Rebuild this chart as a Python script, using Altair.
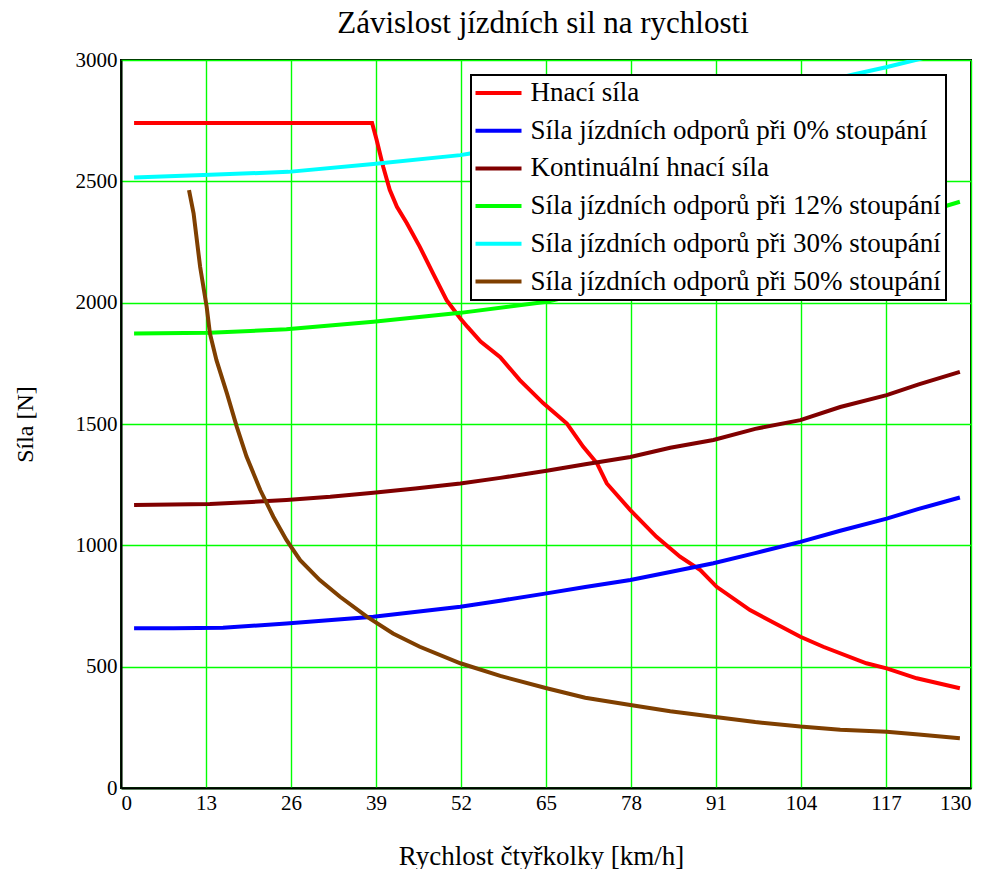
import altair as alt
import pandas as pd

# ---- data ----
chart_title = "Závislost jízdních sil na rychlosti"
series_names = [
    "Hnací síla",
    "Síla jízdních odporů při 0% stoupání",
    "Kontinuální hnací síla",
    "Síla jízdních odporů při 12% stoupání",
    "Síla jízdních odporů při 30% stoupání",
    "Síla jízdních odporů při 50% stoupání",
]
series_colors = ["#FF0000", "#0000FF", "#800000", "#00FF00", "#00FFFF", "#7F3F00"]

hnaci_x = [2, 10, 20, 30, 38.4, 39.1, 40.1, 41.1, 42.2, 43.7, 45.7, 47.7, 49.8, 51.9, 53.0, 55.0,
           58, 61, 64.6, 68.2, 70.7, 72.8, 74.3, 77.9, 81.9, 85.5, 88.6, 91.1, 96.2, 103.9,
           107.4, 114, 117.1, 121.7, 128.3]
hnaci_y = [2740, 2740, 2740, 2740, 2740, 2670, 2560, 2465, 2395, 2328, 2230, 2122, 2010, 1935, 1900, 1840,
           1775, 1681, 1585, 1502, 1406, 1338, 1255, 1145, 1035, 953, 898, 829, 733, 623,
           582, 514, 493, 452, 411]

odp0_x = [2, 8, 15.6, 25.3, 38.6, 51.9, 58, 64.6, 71, 77.9, 84, 90.6, 97, 103.9, 110, 117.1, 122, 128.3]
odp0_y = [658, 658, 660, 678, 706, 747, 772, 800, 828, 857, 890, 926, 968, 1014, 1060, 1110, 1150, 1197]

kont_x = [2, 13.6, 20, 25.3, 32, 38.6, 45, 51.9, 58, 65.1, 71, 77.9, 84, 90.6, 97, 103.9, 110, 117.1, 122, 128.3]
kont_y = [1166, 1170, 1179, 1187, 1200, 1217, 1234, 1255, 1278, 1307, 1334, 1364, 1402, 1434, 1480, 1516,
          1570, 1619, 1663, 1715]

odp12_x = [2, 13.6, 25.3, 38.6, 51.9, 65.1, 69, 77.9, 90.6, 103.9, 117.1, 128.3]
odp12_y = [1873, 1876, 1890, 1921, 1958, 2004, 2028, 2072, 2141, 2229, 2325, 2416]

odp30_x = [2, 12.6, 25.6, 38.6, 51.9, 53.4, 64.6, 77.9, 90.6, 104, 108, 112, 117, 121.5, 128.3]
odp30_y = [2516, 2526, 2539, 2571, 2608, 2615, 2658, 2715, 2784, 2880, 2915, 2940, 2970, 3000, 3050]

odp50_x = [10.4, 11.1, 12.1, 13.1, 13.6, 14.6, 16.2, 17.7, 19.2, 21.3, 23.3, 25.3, 27.4, 30.4, 33.5,
           37.6, 41.6, 45.7, 51.9, 58, 65.1, 71, 77.9, 84, 90.6, 97, 103.9, 110, 117.1, 122, 128.3]
odp50_y = [2464, 2368, 2148, 1983, 1873, 1763, 1626, 1489, 1366, 1228, 1118, 1022, 939, 857, 788,
           706, 637, 582, 514, 462, 411, 372, 342, 316, 294, 272, 253, 240, 232, 220, 205]

x_ticks = [0, 13, 26, 39, 52, 65, 78, 91, 104, 117, 130]
y_ticks = [0, 500, 1000, 1500, 2000, 2500, 3000]

xs = [hnaci_x, odp0_x, kont_x, odp12_x, odp30_x, odp50_x]
ys = [hnaci_y, odp0_y, kont_y, odp12_y, odp30_y, odp50_y]

rows = []
for i, (name, xv, yv) in enumerate(zip(series_names, xs, ys)):
    for a, b in zip(xv, yv):
        rows.append({"v": a, "F": b, "serie": name, "ord": i})
df = pd.DataFrame(rows)

lines = alt.Chart(df).mark_line(strokeWidth=4, clip=True).encode(
    x=alt.X("v:Q",
            scale=alt.Scale(domain=[0, 130], nice=False, zero=False),
            axis=alt.Axis(values=x_ticks, format="d", title="Rychlost čtyřkolky [km/h]",
                          titleX=420, titleY=76, titleBaseline="alphabetic",
                          labelPadding=4)),
    y=alt.Y("F:Q",
            scale=alt.Scale(domain=[0, 3000], nice=False),
            axis=alt.Axis(values=y_ticks, format="d", title="Síla [N]",
                          titleX=-89, titleY=364, titleAngle=270,
                          titleBaseline="alphabetic", labelPadding=4)),
    color=alt.Color("serie:N",
                    scale=alt.Scale(domain=series_names, range=series_colors),
                    legend=alt.Legend(title=None, orient="none", legendX=350, legendY=15,
                                      symbolType="stroke", symbolSize=2304,
                                      symbolStrokeWidth=4, symbolOffset=-4,
                                      labelFontSize=27,
                                      labelFont="Liberation Serif", labelColor="black",
                                      labelLimit=600, labelOffset=7,
                                      clipHeight=27, rowPadding=9.7, padding=4.5,
                                      fillColor="white", strokeColor="black")),
    detail="serie:N",
    order=alt.Order("v:Q"),
)

title_layer = alt.Chart(pd.DataFrame({"t": [chart_title]})).mark_text(
    font="Liberation Serif", fontSize=31, color="black", align="center",
    baseline="alphabetic"
).encode(
    text="t:N",
    x=alt.value(422),
    y=alt.value(-27),
)

chart = alt.layer(lines, title_layer).properties(
    width=850,
    height=728,
    background="white",
    autosize=alt.AutoSizeParams(type="none"),
    padding={"left": 113, "top": 52, "right": 15, "bottom": 81},
).configure_axis(
    grid=True, gridColor="#00FF00", gridWidth=1.4, gridOpacity=1,
    domain=True, domainColor="black", domainWidth=2,
    ticks=False,
    labelFont="Liberation Serif", labelFontSize=21, labelColor="black",
    titleFont="Liberation Serif", titleFontWeight="normal", titleColor="black",
).configure_axisX(titleFontSize=27).configure_axisY(titleFontSize=24).configure_legend(
    strokeWidth=2
).configure_view(
    stroke="black", strokeWidth=2
)

chart.save("out.html", embed_options={"renderer": "svg", "actions": False})
